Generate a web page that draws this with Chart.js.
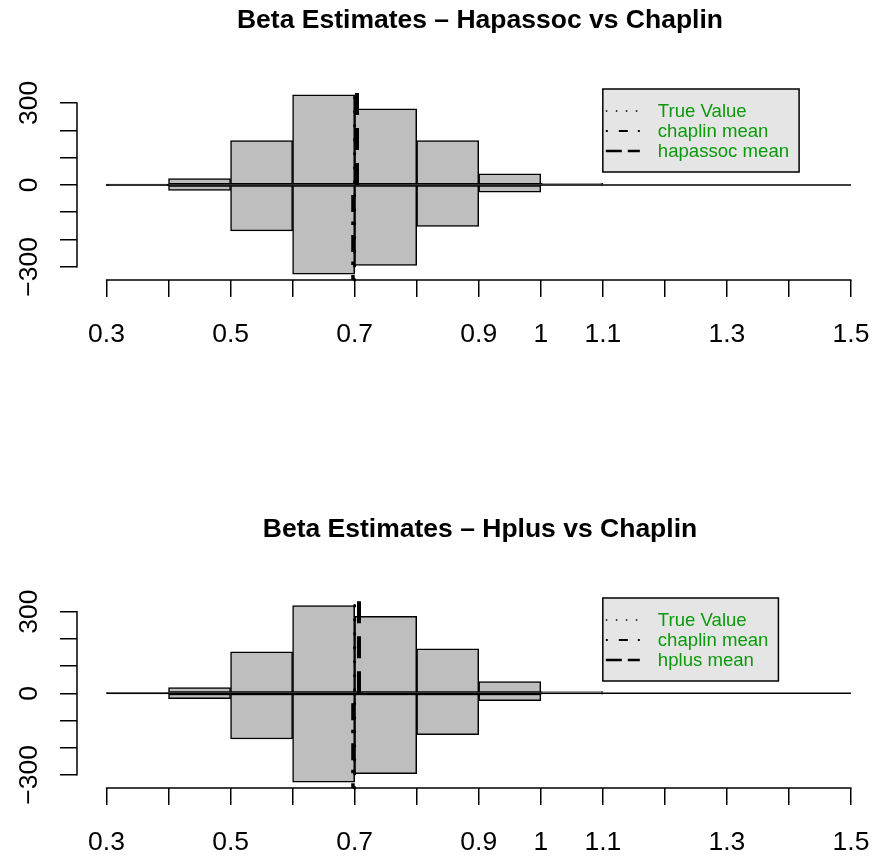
<!DOCTYPE html>
<html>
<head>
<meta charset="utf-8">
<script src="https://cdn.jsdelivr.net/npm/chart.js@4.4.0/dist/chart.umd.min.js"></script>
<style>
  body { margin: 0; background: #fff; }
  canvas { display: block; }
</style>
</head>
<body>
<canvas id="hapassocChart" width="876" height="429"></canvas>
<canvas id="hplusChart" width="876" height="429"></canvas>
<script>
// histogram bins: edges 0.3 .. 1.5, counts per bin (upper half / lower half)
const binEdges = [0.3, 0.4, 0.5, 0.6, 0.7, 0.8, 0.9, 1.0, 1.1, 1.2, 1.3, 1.4, 1.5];
const hapassocCounts = [1, 23, 162, 330, 278, 162, 41, 6, 0, 0, 0, 0];
const hplusCounts = [1, 21, 152, 322, 283, 163, 43, 6, 0, 0, 0, 0];
const chaplinCounts = [1, 20, 168, 327, 295, 152, 27, 3, 0, 0, 0, 0];

// vertical reference lines
const trueValue = 0.7;
const chaplinMean = 0.6973;
const hapassocMean = 0.7038;
const hplusMean = 0.707;

// axes
const xRange = [0.2525, 1.5403];
const xTicks = [0.3, 0.4, 0.5, 0.6, 0.7, 0.8, 0.9, 1.0, 1.1, 1.2, 1.3, 1.4, 1.5];
const xTickLabels = ['0.3', '', '0.5', '', '0.7', '', '0.9', '1', '1.1', '', '1.3', '', '1.5'];
const yTicks = [-300, -200, -100, 0, 100, 200, 300];
const yTickLabels = ['\u2212300', '', '', '0', '', '', '300'];
const yRangeTop = [-348, 351];
const yRangeBottom = [-348, 350];

const legendX = 1.1;
const FONT = "'Liberation Sans', Arial, Helvetica, sans-serif";
const LEGEND_GREEN = '#0a9a0a';

// line styles: true value (dotted), chaplin (dot-dash), other method (dashed)
const refStyles = [
  { width: 3, dash: [0.5, 13.5], cap: 'round', offset: 0 },
  { width: 3.5, dash: [3.5, 10, 17, 9.5], cap: 'butt', offset: 3.5 },
  { width: 4, dash: [22, 13], cap: 'butt', offset: 0 }
];
const legendStyles = [
  { width: 1.5, dash: [1.5, 8.5] },
  { width: 2, dash: [2, 11, 9, 10] },
  { width: 2.5, dash: [16, 6] }
];

function binMids() {
  const mids = [];
  for (let i = 0; i < binEdges.length - 1; i++) {
    mids.push((binEdges[i] + binEdges[i + 1]) / 2);
  }
  return mids;
}

const rPlot = {
  id: 'rPlot',
  afterDatasetsDraw(chart, args, opts) {
    const ctx = chart.ctx;
    const xs = chart.scales.x;
    const ys = chart.scales.y;
    const area = chart.chartArea;
    const zero = ys.getPixelForValue(0);

    ctx.save();

    // reference lines: full height, lower half (chaplin), upper half
    opts.lines.forEach((value, i) => {
      const st = refStyles[i];
      const px = xs.getPixelForValue(value);
      let y0 = area.bottom, y1 = area.top;
      if (i === 1) { y0 = zero; y1 = area.bottom; }
      if (i === 2) { y0 = zero; y1 = area.top; }
      ctx.beginPath();
      ctx.lineWidth = st.width;
      ctx.lineCap = st.cap;
      ctx.setLineDash(st.dash);
      ctx.lineDashOffset = st.offset;
      ctx.strokeStyle = '#000';
      ctx.moveTo(px, y0);
      ctx.lineTo(px, y1);
      ctx.stroke();
    });
    ctx.setLineDash([]);
    ctx.lineDashOffset = 0;

    // axis lines only span first..last tick, like R
    ctx.lineWidth = 1.5;
    ctx.lineCap = 'round';
    ctx.beginPath();
    ctx.moveTo(xs.getPixelForValue(xTicks[0]), area.bottom);
    ctx.lineTo(xs.getPixelForValue(xTicks[xTicks.length - 1]), area.bottom);
    ctx.moveTo(area.left, ys.getPixelForValue(yTicks[0]));
    ctx.lineTo(area.left, ys.getPixelForValue(yTicks[yTicks.length - 1]));
    ctx.stroke();

    // rotated y tick labels
    ctx.fillStyle = '#000';
    ctx.font = '26.5px ' + FONT;
    ctx.textAlign = 'center';
    ctx.textBaseline = 'alphabetic';
    yTicks.forEach((v, i) => {
      if (!yTickLabels[i]) return;
      ctx.save();
      ctx.translate(area.left - 40, ys.getPixelForValue(v));
      ctx.rotate(-Math.PI / 2);
      ctx.fillText(yTickLabels[i], 0, 0);
      ctx.restore();
    });

    // title
    ctx.font = 'bold 26.5px ' + FONT;
    ctx.fillText(opts.title, 480, area.top - 61);

    // legend box
    ctx.font = '18.6px ' + FONT;
    const left = xs.getPixelForValue(legendX);
    const top = area.top;
    const textW = Math.max(...opts.labels.map(t => ctx.measureText(t).width));
    const boxW = 55 + textW + 10;
    const boxH = 83;
    ctx.fillStyle = '#e5e5e5';
    ctx.fillRect(left, top, boxW, boxH);
    ctx.lineWidth = 1.5;
    ctx.strokeStyle = '#000';
    ctx.strokeRect(left, top, boxW, boxH);

    opts.labels.forEach((label, i) => {
      const rowY = top + 22 + i * 20;
      const st = legendStyles[i];
      ctx.beginPath();
      ctx.lineWidth = st.width;
      ctx.lineCap = 'butt';
      ctx.setLineDash(st.dash);
      ctx.moveTo(left + 3, rowY);
      ctx.lineTo(left + 37, rowY);
      ctx.stroke();
      ctx.setLineDash([]);
      ctx.fillStyle = LEGEND_GREEN;
      ctx.textAlign = 'left';
      ctx.textBaseline = 'middle';
      ctx.fillText(label, left + 55, rowY + 1);
    });

    ctx.restore();
  }
};

function makeChart(canvasId, title, upperName, upperCounts, upperMean, yRange, topPad, xAxisHeight) {
  const mids = binMids();
  const ctx = document.getElementById(canvasId).getContext('2d');

  return new Chart(ctx, {
    type: 'bar',
    data: {
      datasets: [{
        label: upperName,
        data: mids.map((m, i) => ({ x: m, y: upperCounts[i] })),
        backgroundColor: '#bebebe',
        borderColor: '#000',
        borderWidth: 1.5,
        borderSkipped: false,
        grouped: false,
        barPercentage: 1,
        categoryPercentage: 1,
        order: 2
      }, {
        label: 'chaplin',
        data: mids.map((m, i) => ({ x: m, y: -chaplinCounts[i] })),
        backgroundColor: '#bebebe',
        borderColor: '#000',
        borderWidth: 1.5,
        borderSkipped: false,
        grouped: false,
        barPercentage: 1,
        categoryPercentage: 1,
        order: 2
      }, {
        type: 'line',
        label: 'zero',
        data: [{ x: binEdges[0], y: 0 }, { x: binEdges[binEdges.length - 1], y: 0 }],
        borderColor: '#000',
        borderWidth: 1.5,
        pointRadius: 0,
        order: 1
      }]
    },
    options: {
      responsive: false,
      animation: false,
      layout: { padding: { top: topPad, left: 0, right: 0, bottom: 0 } },
      scales: {
        x: {
          type: 'linear',
          bounds: 'data',
          offset: false,
          min: xRange[0],
          max: xRange[1],
          afterBuildTicks: s => { s.ticks = xTicks.map(v => ({ value: v })); },
          afterFit: s => {
            s.height = xAxisHeight;
            // tick labels sit well inside the plot width, no side padding needed
            s.paddingLeft = 0;
            s.paddingRight = 0;
          },
          border: { display: false },
          grid: { offset: false, drawOnChartArea: false, drawTicks: true, tickLength: 17, color: '#000', lineWidth: 1.5 },
          ticks: {
            autoSkip: false,
            maxRotation: 0,
            padding: 22,
            color: '#000',
            font: { size: 26.5, family: FONT },
            callback: (v, i) => xTickLabels[i]
          }
        },
        y: {
          type: 'linear',
          bounds: 'data',
          min: yRange[0],
          max: yRange[1],
          afterBuildTicks: s => { s.ticks = yTicks.map(v => ({ value: v })); },
          afterFit: s => { s.width = 77; },
          border: { display: false },
          grid: { drawOnChartArea: false, drawTicks: true, tickLength: 17, color: '#000', lineWidth: 1.5 },
          ticks: { display: false }
        }
      },
      plugins: {
        legend: { display: false },
        tooltip: { enabled: false },
        rPlot: {
          title: title,
          lines: [trueValue, chaplinMean, upperMean],
          labels: ['True Value', 'chaplin mean', upperName + ' mean']
        }
      }
    },
    plugins: [rPlot]
  });
}

makeChart('hapassocChart', 'Beta Estimates \u2013 Hapassoc vs Chaplin', 'hapassoc',
  hapassocCounts, hapassocMean, yRangeTop, 89, 149);
makeChart('hplusChart', 'Beta Estimates \u2013 Hplus vs Chaplin', 'hplus',
  hplusCounts, hplusMean, yRangeBottom, 169, 70);
</script>
</body>
</html>
